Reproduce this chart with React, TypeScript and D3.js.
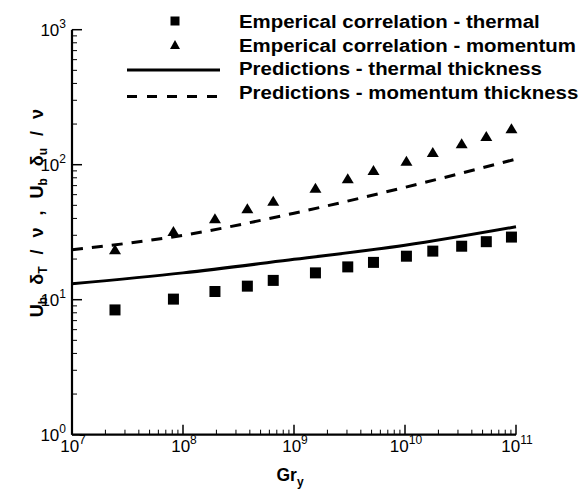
import React from "react";
import * as d3 from "d3";

const grData = [2.44e7, 8.2e7, 1.94e8, 3.8e8, 6.5e8, 1.56e9, 3.05e9, 5.2e9, 1.03e10, 1.78e10, 3.24e10, 5.4e10, 9.1e10];
const thermalEmp = [8.4, 10.1, 11.5, 12.6, 13.9, 15.8, 17.5, 18.9, 21.0, 22.9, 24.9, 26.9, 29.1];
const momentumEmp = [23.6, 32.3, 40.1, 47.5, 54.1, 67.5, 79.3, 91.4, 107, 124, 144, 163, 186];
const grLine = [1e7, 1e8, 1e9, 1e10, 1e11];
const thermalPred = [13.1, 15.8, 19.9, 25.3, 34.7];
const momentumPred = [23.4, 30, 43.7, 68.0, 110];
const xTickExp = [7, 8, 9, 10, 11];
const yTickExp = [0, 1, 2, 3];
const legendLabels = [
  "Emperical correlation - thermal",
  "Emperical correlation - momentum",
  "Predictions - thermal thickness",
  "Predictions - momentum thickness",
];

const FONT = "'Liberation Sans', Arial, Helvetica, sans-serif";

export default function App() {
  const x = d3.scaleLog().domain([1e7, 1e11]).range([72, 516]);
  const y = d3.scaleLog().domain([1, 1000]).range([434.7, 29.7]);
  const x0 = 72, y0 = 434.7;

  const line = d3
    .line<[number, number]>()
    .x((d) => x(d[0]))
    .y((d) => y(d[1]))
    .curve(d3.curveMonotoneX);

  const xMinor: number[] = [];
  for (let e = 7; e < 11; e++) for (let k = 2; k <= 9; k++) xMinor.push(k * Math.pow(10, e));
  const yMinor: number[] = [];
  for (let e = 0; e < 3; e++) for (let k = 2; k <= 9; k++) yMinor.push(k * Math.pow(10, e));

  const tri = (cx: number, cy: number, w: number, h: number) =>
    `M${cx},${cy - h / 2}L${cx + w / 2},${cy + h / 2}L${cx - w / 2},${cy + h / 2}Z`;

  const legendRows = [21.5, 45, 68.5, 92];

  return (
    <svg width={579} height={489} style={{ position: "absolute", left: 0, top: 0, background: "#fff" }} fontFamily={FONT}>
      {/* axes */}
      <line x1={x0} x2={x0} y1={y(1000)} y2={y0} stroke="#000" strokeWidth={2.2} />
      <line x1={x0} x2={x(1e11)} y1={y0} y2={y0} stroke="#000" strokeWidth={2.2} />
      {xTickExp.map((e) => (
        <line key={"xm" + e} x1={x(Math.pow(10, e))} x2={x(Math.pow(10, e))} y1={y0} y2={y0 - 10} stroke="#000" strokeWidth={1.5} />
      ))}
      {xMinor.map((v, i) => (
        <line key={"xn" + i} x1={x(v)} x2={x(v)} y1={y0} y2={y0 - 5} stroke="#000" strokeWidth={1} />
      ))}
      {yTickExp.map((e) => (
        <line key={"ym" + e} x1={x0} x2={x0 + 10} y1={y(Math.pow(10, e))} y2={y(Math.pow(10, e))} stroke="#000" strokeWidth={1.5} />
      ))}
      {yMinor.map((v, i) => (
        <line key={"yn" + i} x1={x0} x2={x0 + 5} y1={y(v)} y2={y(v)} stroke="#000" strokeWidth={1} />
      ))}
      {/* tick labels */}
      {xTickExp.map((e) => (
        <text key={"xl" + e} x={x(Math.pow(10, e)) + 1} y={452} fontSize={17} textAnchor="middle">
          10<tspan fontSize={12} dy={-8}>{e}</tspan>
        </text>
      ))}
      {yTickExp.map((e) => (
        <text key={"yl" + e} x={66} y={y(Math.pow(10, e)) + 6} fontSize={17} textAnchor="end">
          10<tspan fontSize={12} dy={-8}>{e}</tspan>
        </text>
      ))}
      {/* axis titles */}
      <text x={290} y={480.5} fontSize={17.5} fontWeight="bold" textAnchor="middle">
        Gr<tspan fontSize={12} dy={5}>y</tspan>
      </text>
      <text transform="translate(43,213) rotate(-90)" fontSize={18} fontWeight="bold" textAnchor="middle" wordSpacing={7}>
        U<tspan fontSize={12} dy={4}>b</tspan>
        <tspan dy={-4}> δ</tspan>
        <tspan fontSize={12} dy={4}>T</tspan>
        <tspan dy={-4}> / ν , U</tspan>
        <tspan fontSize={12} dy={4}>b</tspan>
        <tspan dy={-4}> δ</tspan>
        <tspan fontSize={12} dy={4}>u</tspan>
        <tspan dy={-4}> / ν</tspan>
      </text>
      {/* prediction lines */}
      <path d={line(grLine.map((g, i) => [g, thermalPred[i]]) as any) || ""} fill="none" stroke="#000" strokeWidth={3} />
      <path d={line(grLine.map((g, i) => [g, momentumPred[i]]) as any) || ""} fill="none" stroke="#000" strokeWidth={3} strokeDasharray="11 9" />
      {/* empirical points */}
      {grData.map((g, i) => (
        <rect key={"s" + i} x={x(g) - 5.5} y={y(thermalEmp[i]) - 5.5} width={11} height={11} fill="#000" />
      ))}
      {grData.map((g, i) => (
        <path key={"t" + i} d={tri(x(g), y(momentumEmp[i]), 12, 10)} fill="#000" />
      ))}
      {/* legend */}
      <rect x={175 - 4.5} y={legendRows[0] - 5} width={9} height={9} fill="#000" />
      <path d={tri(175, legendRows[1] - 0.5, 10, 9)} fill="#000" />
      <line x1={127} x2={220} y1={70} y2={70} stroke="#000" strokeWidth={3} />
      <line x1={127} x2={220} y1={96.5} y2={96.5} stroke="#000" strokeWidth={3} strokeDasharray="10 10" />
      {legendLabels.map((t, i) => (
        <text key={"lg" + i} transform={`translate(239,${legendRows[i] + 6.8}) scale(1.075,1)`} fontSize={19} fontWeight="bold">
          {t}
        </text>
      ))}
    </svg>
  );
}
